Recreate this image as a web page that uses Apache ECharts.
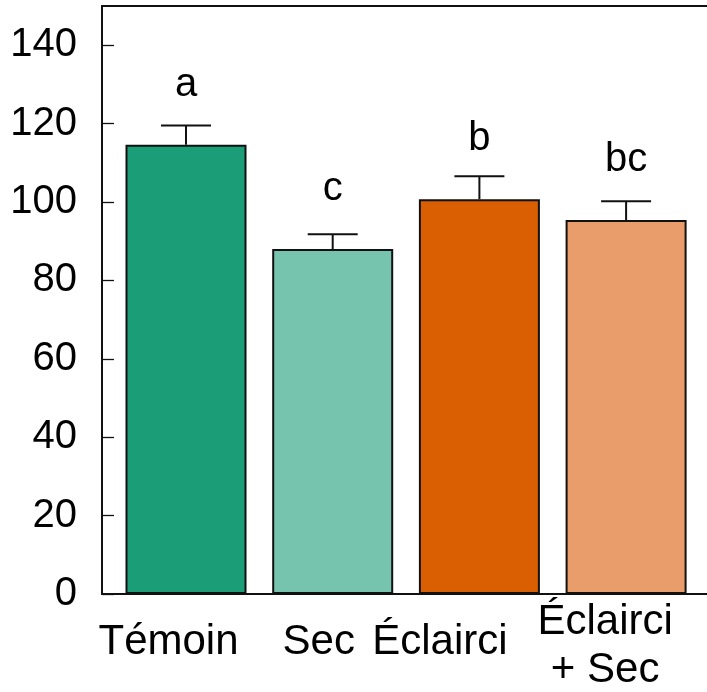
<!DOCTYPE html>
<html>
<head>
<meta charset="utf-8">
<script src="https://cdn.jsdelivr.net/npm/echarts@6/dist/echarts.min.js"></script>
<style>
  html, body { margin: 0; padding: 0; background: #fff; }
  #chart { width: 707px; height: 692px; }
</style>
</head>
<body>
<div id="chart"></div>
<script>
// Treatments, means, standard errors and significance letters
const categories = ['Témoin', 'Sec', 'Éclairci', 'Éclairci\n+ Sec'];
const means = [114.6, 88.0, 100.7, 95.4];
const errors = [4.9, 3.8, 5.9, 4.8];
const letters = ['a', 'c', 'b', 'bc'];
const barColors = ['#1b9e77', '#76c4ae', '#d95f02', '#e99d6a'];
const yTicks = [0, 20, 40, 60, 80, 100, 120, 140];

const FONT = '"Liberation Sans", Arial, sans-serif';

// Per-category label placement (rich styles)
const labelRich = {
  t0: { fontSize: 42, lineHeight: 48, fontFamily: FONT, color: '#000', padding: [41, 35, 0, 0] },
  t1: { fontSize: 42, lineHeight: 48, fontFamily: FONT, color: '#000', padding: [41, 28, 0, 0] },
  t2: { fontSize: 42, lineHeight: 48, fontFamily: FONT, color: '#000', padding: [41, 79, 0, 0] },
  t3: { fontSize: 42, lineHeight: 48, fontFamily: FONT, color: '#000', padding: [0, 42, 0, 0] }
};

const frameLine = { show: true, lineStyle: { color: '#111', width: 2 } };

const chart = echarts.init(document.getElementById('chart'), null, { renderer: 'canvas' });

const option = {
  animation: false,
  backgroundColor: '#fff',
  grid: [
    // plotting grid for bars
    { left: 112.65, width: 586.8, top: 6, bottom: 98, outerBoundsMode: 'none' },
    // frame: left, top and bottom lines across the full width
    { left: 102, right: 0, top: 6, bottom: 98, outerBoundsMode: 'none' }
  ],
  xAxis: [
    {
      type: 'category',
      gridIndex: 0,
      data: categories,
      boundaryGap: true,
      axisLine: { show: false },
      axisTick: { show: false },
      axisLabel: {
        margin: 4,
        interval: 0,
        hideOverlap: false,
        formatter: function (value, idx) {
          return value.split('\n').map(function (s) { return '{t' + idx + '|' + s + '}'; }).join('\n');
        },
        rich: labelRich
      }
    },
    { type: 'value', gridIndex: 1, position: 'bottom', min: 0, max: 1,
      axisLine: frameLine, axisTick: { show: false }, axisLabel: { show: false }, splitLine: { show: false } },
    { type: 'value', gridIndex: 1, position: 'top', min: 0, max: 1,
      axisLine: frameLine, axisTick: { show: false }, axisLabel: { show: false }, splitLine: { show: false } }
  ],
  yAxis: [
    {
      type: 'value',
      gridIndex: 0,
      min: 0,
      max: 150,
      interval: 20,
      offset: 10.65,
      splitLine: { show: false },
      axisLine: { show: false },
      axisTick: {
        show: true,
        inside: true,
        length: 12,
        lineStyle: { color: '#111', width: 1.3 }
      },
      axisLabel: {
        margin: 25,
        showMaxLabel: false,
        fontSize: 40,
        fontFamily: FONT,
        color: '#000',
        formatter: function (v) { return yTicks.indexOf(v) >= 0 ? String(v) : ''; }
      }
    },
    { type: 'value', gridIndex: 1, position: 'left', min: 0, max: 1,
      axisLine: frameLine, axisTick: { show: false }, axisLabel: { show: false }, splitLine: { show: false } }
  ],
  series: [
    {
      type: 'bar',
      xAxisIndex: 0,
      yAxisIndex: 0,
      barWidth: 121,
      data: means.map(function (m, i) {
        return { value: m, itemStyle: { color: barColors[i] } };
      }),
      itemStyle: { borderColor: '#111', borderWidth: 2 },
      label: {
        show: true,
        position: 'top',
        distance: 40,
        fontSize: 40,
        lineHeight: 40,
        fontFamily: FONT,
        color: '#000',
        formatter: function (p) { return letters[p.dataIndex]; }
      },
      z: 2
    },
    {
      type: 'custom',
      xAxisIndex: 0,
      yAxisIndex: 0,
      data: means.map(function (m, i) { return [i, m, m + errors[i]]; }),
      renderItem: function (params, api) {
        const base = api.coord([api.value(0), api.value(1)]);
        const top = api.coord([api.value(0), api.value(2)]);
        const half = 25;
        const style = { stroke: '#111', lineWidth: 2 };
        return {
          type: 'group',
          children: [
            { type: 'line', shape: { x1: base[0], y1: base[1], x2: top[0], y2: top[1] }, style: style },
            { type: 'line', shape: { x1: top[0] - half, y1: top[1], x2: top[0] + half, y2: top[1] }, style: style }
          ]
        };
      },
      z: 3
    }
  ]
};

chart.setOption(option);
</script>
</body>
</html>
